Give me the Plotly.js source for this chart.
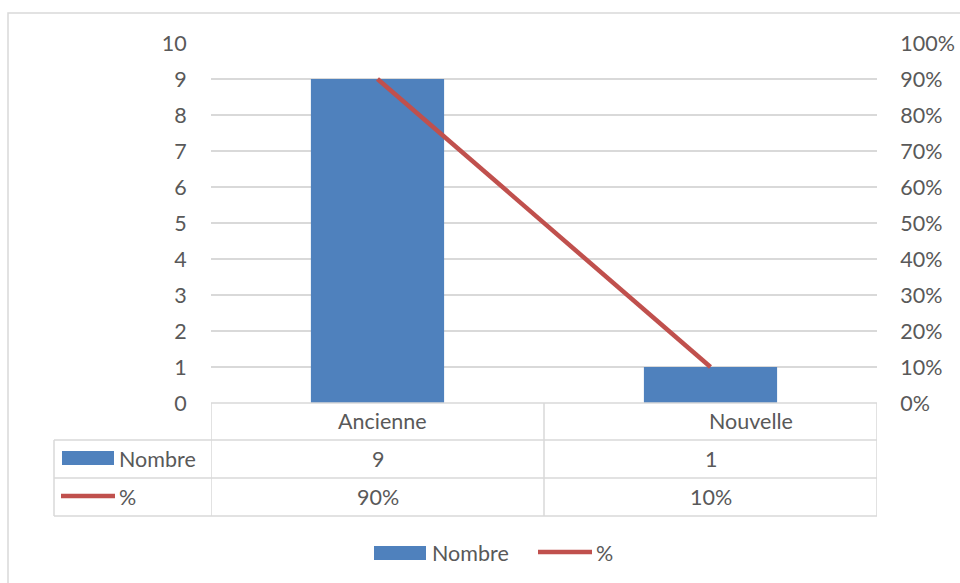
<!DOCTYPE html>
<html>
<head>
<meta charset="utf-8">
<script src="https://cdn.plot.ly/plotly-3.0.1.min.js"></script>
<style>
  html, body { margin: 0; padding: 0; background: #ffffff; }
  #chart { width: 960px; height: 583px; }
</style>
</head>
<body>
<div id="chart"></div>
<script>
// Series data
const categories = ["Ancienne", "Nouvelle"];
const nombre = [9, 1];
const pourcent = [0.90, 0.10];
const seriesNames = ["Nombre", "%"];
const leftTicks = [0, 1, 2, 3, 4, 5, 6, 7, 8, 9, 10];
const rightTicks = [0, 0.1, 0.2, 0.3, 0.4, 0.5, 0.6, 0.7, 0.8, 0.9, 1.0];

// Geometry of the frame (pixels)
const W = 960, H = 583;
const PL = 211, PR = 877, PT = 43, PB = 403;
const px = p => (p - PL) / (PR - PL);
const py = p => (PB - p) / (PB - PT);

const BLUE = "#4F81BD";
const RED = "#C0504D";
const GRID = "#D9D9D9";
const TXT = "#595959";
const FONT = 'Lato, "Open Sans", sans-serif';
const FS = 21.5;

const traces = [
  {
    type: "bar",
    x: categories,
    y: nombre,
    name: seriesNames[0],
    marker: { color: BLUE },
    width: 0.4,
    hoverinfo: "x+y"
  },
  {
    type: "scatter",
    mode: "lines",
    x: categories,
    y: pourcent,
    yaxis: "y2",
    name: seriesNames[1],
    line: { color: RED, width: 4.5 },
    hoverinfo: "x+y"
  }
];

const shapes = [];
function hline(y, x0, x1, ref) {
  shapes.push({ type: "line", xref: ref || "paper", yref: "paper",
    x0: x0, x1: x1, y0: py(y), y1: py(y), line: { color: GRID, width: 1.5 } });
}
function vline(x, y0, y1, ref) {
  shapes.push({ type: "line", xref: ref || "paper", yref: "paper",
    x0: x, x1: x, y0: py(y0), y1: py(y1), line: { color: GRID, width: 1.5 } });
}

// Outer chart frame (top and left edges)
shapes.push({ type: "path", xref: "paper", yref: "paper",
  path: `M ${px(8)} ${py(H + 5)} L ${px(8)} ${py(13)} L ${px(W + 5)} ${py(13)}`,
  line: { color: GRID, width: 1.5 } });

// Data table grid
hline(403, px(PL), px(PR));
hline(440, px(54), px(PR));
hline(478, px(54), px(PR));
hline(516, px(54), px(PR));
vline(px(54), 440, 516);
vline(-0.5, 403, 516, "x");
vline(0.5, 403, 516, "x");
vline(1.5, 403, 516, "x");

// Legend keys inside the table
shapes.push({ type: "rect", xref: "paper", yref: "paper",
  x0: px(62), x1: px(114), y0: py(465), y1: py(451),
  fillcolor: BLUE, line: { width: 0 } });
shapes.push({ type: "line", xref: "paper", yref: "paper",
  x0: px(61), x1: px(115), y0: py(496), y1: py(496),
  line: { color: RED, width: 4.5 } });

// Legend below the table
shapes.push({ type: "rect", xref: "paper", yref: "paper",
  x0: px(374), x1: px(426), y0: py(560), y1: py(546),
  fillcolor: BLUE, line: { width: 0 } });
shapes.push({ type: "line", xref: "paper", yref: "paper",
  x0: px(538), x1: px(592), y0: py(552), y1: py(552),
  line: { color: RED, width: 4.5 } });

const annotations = [];
function label(text, xref, x, y, anchor, xshift) {
  annotations.push({ text: text, xref: xref, yref: "paper", x: x, y: py(y),
    xanchor: anchor || "center", yanchor: "middle", showarrow: false,
    xshift: xshift || 0, font: { family: FONT, size: FS, color: TXT } });
}

// Table header (categories) and values
const headerShift = [5, 40];
categories.forEach((c, i) => {
  label(c, "x", i, 421, "center", headerShift[i]);
  label(String(nombre[i]), "x", i, 459, "center", 0);
  label(Math.round(pourcent[i] * 100) + "%", "x", i, 497, "center", 0);
});

// Table row headers
label(seriesNames[0], "paper", px(117), 459, "left");
label(seriesNames[1], "paper", px(117), 497, "left");

// Bottom legend labels
label(seriesNames[0], "paper", px(430), 553, "left");
label(seriesNames[1], "paper", px(594), 553, "left");

const layout = {
  width: W,
  height: H,
  margin: { l: PL, r: W - PR, t: PT, b: H - PB, pad: 0 },
  paper_bgcolor: "#ffffff",
  plot_bgcolor: "#ffffff",
  showlegend: false,
  font: { family: FONT, size: FS, color: TXT },
  xaxis: {
    type: "category",
    range: [-0.5, 1.5],
    showticklabels: false,
    showgrid: false,
    zeroline: false,
    showline: false,
    ticks: "",
    fixedrange: true
  },
  yaxis: {
    range: [0, 10],
    tickvals: leftTicks,
    ticktext: leftTicks.map(String),
    showgrid: true,
    gridcolor: GRID,
    gridwidth: 1.5,
    zeroline: false,
    showline: false,
    ticks: "outside",
    ticklen: 19,
    tickcolor: "rgba(0,0,0,0)",
    tickfont: { family: FONT, size: FS, color: TXT },
    fixedrange: true
  },
  yaxis2: {
    range: [0, 1],
    overlaying: "y",
    side: "right",
    tickvals: rightTicks,
    ticktext: rightTicks.map(v => Math.round(v * 100) + "%"),
    showgrid: false,
    zeroline: false,
    showline: false,
    ticks: "outside",
    ticklen: 18,
    tickcolor: "rgba(0,0,0,0)",
    tickfont: { family: FONT, size: FS, color: TXT },
    fixedrange: true
  },
  shapes: shapes,
  annotations: annotations
};

Plotly.newPlot("chart", traces, layout, { displayModeBar: false, staticPlot: true });
</script>
</body>
</html>
